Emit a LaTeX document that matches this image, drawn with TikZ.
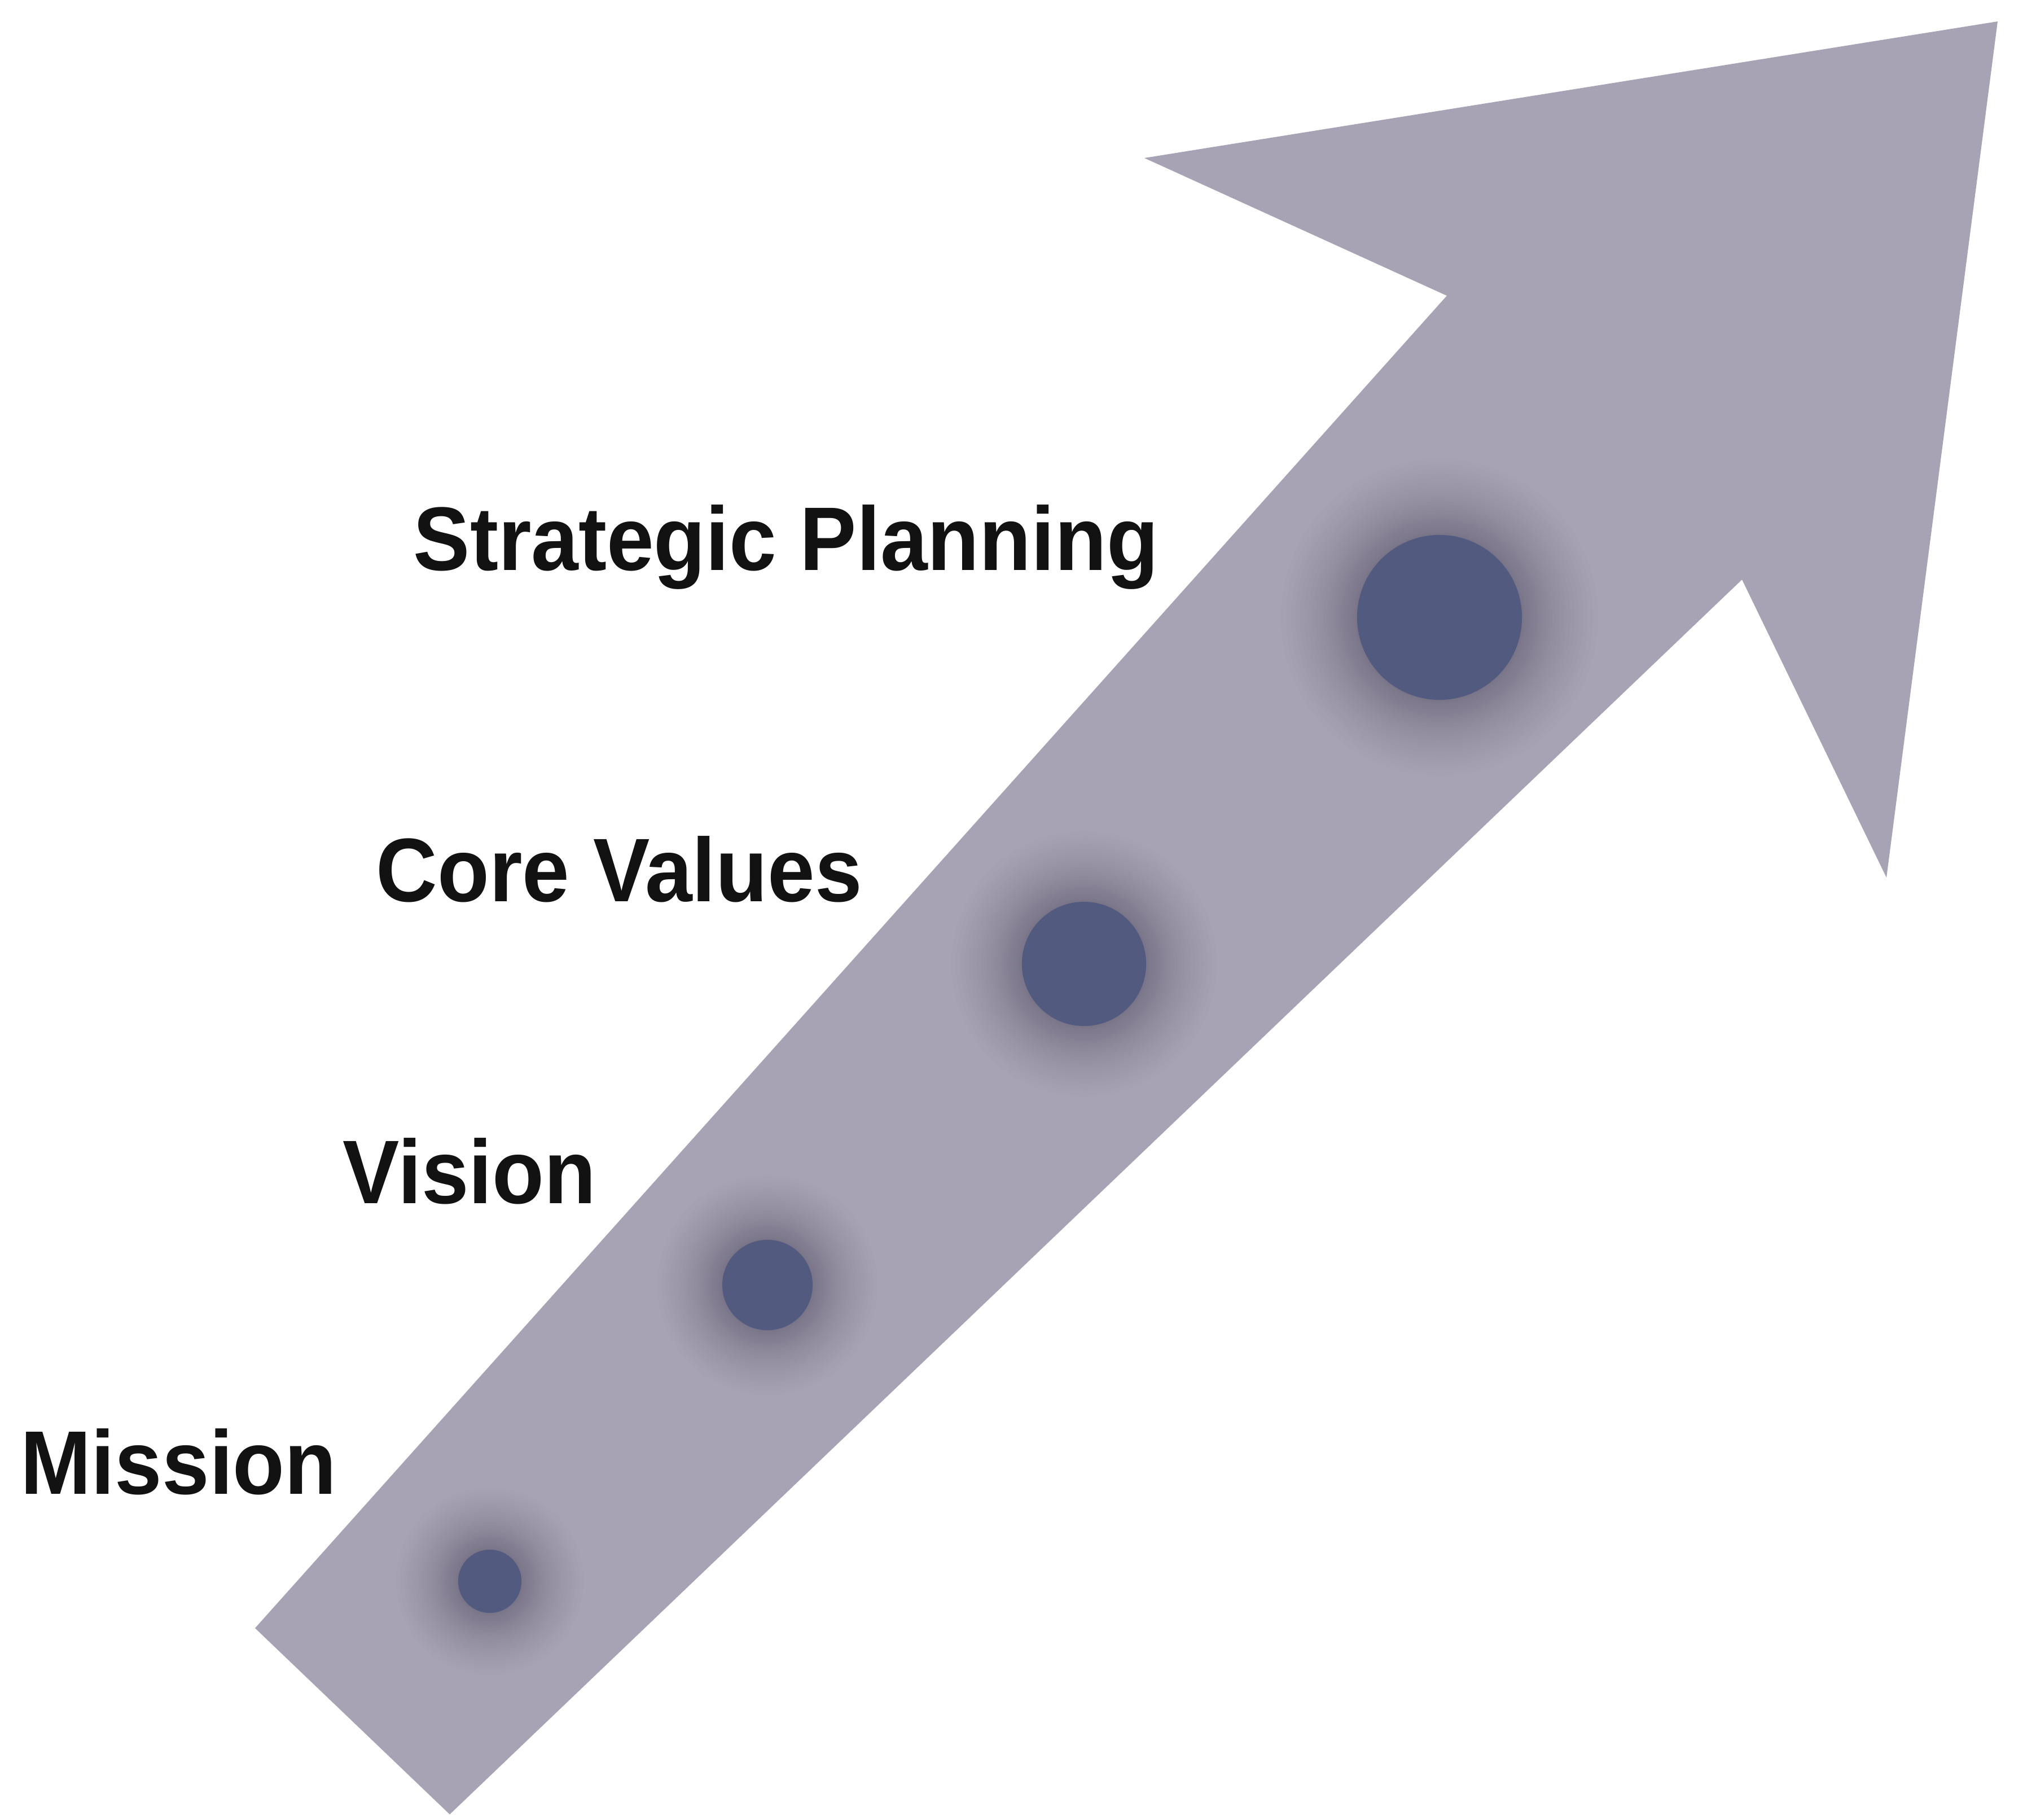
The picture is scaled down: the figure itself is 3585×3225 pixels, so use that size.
\documentclass[tikz,border=0pt]{standalone}
\usepackage{fontspec}
\setmainfont{Liberation Sans}[FakeStretch=0.94]

\definecolor{arrowfill}{HTML}{A7A2B4}
\definecolor{dotfill}{HTML}{535A80}
\definecolor{haloshade}{HTML}{2E2A40}
\definecolor{labeltext}{HTML}{121212}

\tikzset{
  stage label/.style={anchor=base west, inner sep=0pt, text=labeltext,
    font=\fontsize{45.5pt}{50pt}\selectfont\bfseries},
  stage dot/.style={circle, fill=dotfill, inner sep=0pt, minimum size=#1},
}

% soft dark glow behind a dot: centre, dot radius, spread
% (rings packed towards the dot so the shadow is densest at its rim)
\newcommand{\dothalo}[3]{%
  \foreach \k in {1,...,30}{%
    \fill[haloshade, opacity=0.011] (#1) circle[radius={#2+#3*(\k/30)^2}];
  }}

\begin{document}
\begin{tikzpicture}[x=0.01cm, y=-0.01cm]
  \fill[white] (0,0) rectangle (3585,3225);
  \useasboundingbox (0,0) rectangle (3585,3225);

  % the rising arrow
  \fill[arrowfill] (452,2885) -- (2564,524) -- (2028,280) -- (3540,38)
    -- (3343,1555) -- (3087,1027) -- (797,3215) -- cycle;

  % glows around the stage markers
  \dothalo{868,2802}{56}{110}
  \dothalo{1360,2277}{80}{115}
  \dothalo{1921,1708}{110}{125}
  \dothalo{2551,1094}{146}{135}

  % stage markers
  \node[stage dot=1.12cm] (dmission)  at (868,2802)  {};
  \node[stage dot=1.60cm] (dvision)   at (1360,2277) {};
  \node[stage dot=2.20cm] (dvalues)   at (1921,1708) {};
  \node[stage dot=2.92cm] (dstrategy) at (2551,1094) {};

  % stage labels
  \node[stage label] (lmission)  at (36,2647)  {Mission};
  \node[stage label] (lvision)   at (607,2132) {Vision};
  \node[stage label] (lvalues)   at (666,1597) {Core Values};
  \node[stage label] (lstrategy) at (732,1010) {Strategic Planning};
\end{tikzpicture}
\end{document}
